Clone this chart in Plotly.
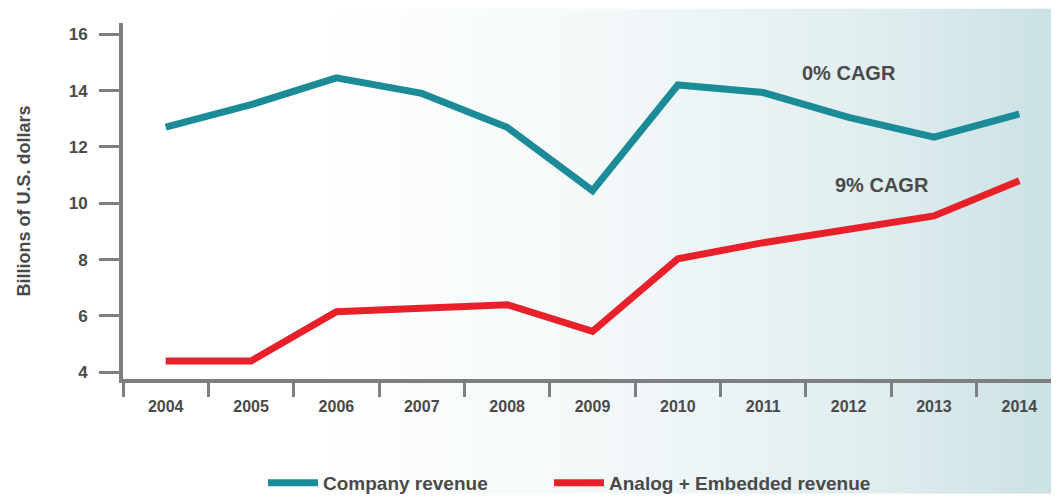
import base64
import plotly.graph_objects as go

years = ["2004", "2005", "2006", "2007", "2008", "2009", "2010", "2011", "2012", "2013", "2014"]
company_revenue = [12.7, 13.5, 14.45, 13.9, 12.7, 10.45, 14.2, 13.93, 13.05, 12.35, 13.17]
analog_embedded_revenue = [4.4, 4.4, 6.15, 6.3, 6.4, 5.45, 8.03, 8.6, 9.1, 9.55, 10.8]
y_ticks = [4, 6, 8, 10, 12, 14, 16]

TEAL = "#1b8b97"
RED = "#e8202a"
GRAY = "#7d7f80"
TEXT = "#4a4a4a"
FONT = "Liberation Sans"

svg = (
    '<svg xmlns="http://www.w3.org/2000/svg" width="200" height="100" preserveAspectRatio="none">'
    '<defs><linearGradient id="g" x1="0" y1="0" x2="1" y2="0">'
    '<stop offset="0" stop-color="#ffffff"/>'
    '<stop offset="0.3" stop-color="#ffffff"/>'
    '<stop offset="0.6" stop-color="#f1f7f8"/>'
    '<stop offset="0.82" stop-color="#e0edef"/>'
    '<stop offset="1" stop-color="#c9e0e3"/>'
    '</linearGradient></defs>'
    '<rect width="200" height="100" fill="url(#g)"/></svg>'
)
bg_src = "data:image/svg+xml;base64," + base64.b64encode(svg.encode()).decode()

fig = go.Figure()
fig.add_trace(go.Scatter(
    x=years, y=company_revenue, mode="lines", name="Company revenue",
    line=dict(color=TEAL, width=7), legend="legend",
))
fig.add_trace(go.Scatter(
    x=years, y=analog_embedded_revenue, mode="lines", name="Analog + Embedded revenue",
    line=dict(color=RED, width=7), legend="legend2",
))

fig.add_annotation(x=8.0, y=14.62, text="0% CAGR", showarrow=False,
                   font=dict(family=FONT, size=20, color=TEXT, weight="bold"))
fig.add_annotation(x=8.39, y=10.64, text="9% CAGR", showarrow=False,
                   font=dict(family=FONT, size=20, color=TEXT, weight="bold"))

L, R, T, B = 115, 5, 15, 118
W, H = 1059, 499
pw, ph = W - L - R, H - T - B

fig.add_layout_image(dict(
    source=bg_src, xref="paper", yref="paper",
    x=-L / pw, y=1 + T / ph, sizex=W / pw, sizey=H / ph,
    xanchor="left", yanchor="top", sizing="stretch", layer="below",
))

legend_common = dict(
    orientation="h", xanchor="left", y=-0.292, yanchor="middle",
    font=dict(family=FONT, size=19, color=TEXT, weight="bold"),
    bgcolor="rgba(0,0,0,0)", itemwidth=50,
)

fig.update_layout(
    width=W, height=H,
    margin=dict(l=L, r=R, t=T, b=B),
    paper_bgcolor="white",
    plot_bgcolor="rgba(0,0,0,0)",
    font=dict(family=FONT, color=TEXT),
    showlegend=True,
    legend=dict(x=(255 - L) / pw, **legend_common),
    legend2=dict(x=(541 - L) / pw, **legend_common),
    xaxis=dict(
        type="category", range=[-0.5, 10.5],
        tickson="boundaries", ticks="outside", ticklen=14, tickwidth=3, tickcolor=GRAY,
        showline=True, linecolor=GRAY, linewidth=4,
        showgrid=False, zeroline=False, ticklabelstandoff=10,
        tickfont=dict(family=FONT, size=16, color=TEXT, weight="bold"),
        fixedrange=True,
    ),
    yaxis=dict(
        range=[3.76, 16.4], tickvals=y_ticks,
        ticks="outside", ticklen=20, tickwidth=3, tickcolor=GRAY,
        showline=True, linecolor=GRAY, linewidth=4,
        showgrid=False, zeroline=False, ticklabelstandoff=8,
        tickfont=dict(family=FONT, size=17, color=TEXT, weight="bold"),
        title=dict(text="Billions of U.S. dollars", standoff=34,
                   font=dict(family=FONT, size=18, color=TEXT, weight="bold")),
        fixedrange=True,
    ),
)

fig.write_html("out.html")
